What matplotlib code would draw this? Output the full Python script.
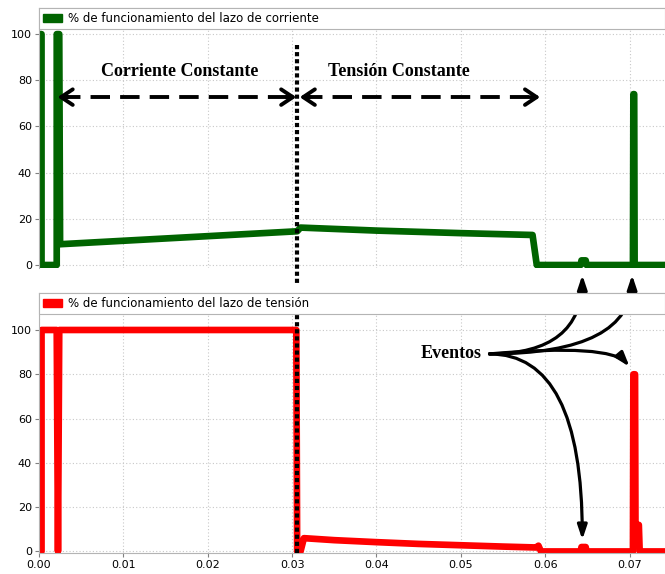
import matplotlib
matplotlib.use("Agg")
import matplotlib.pyplot as plt
from matplotlib.patches import Patch
from matplotlib.ticker import FormatStrFormatter

# Current-loop duty (%) over time (s)
t_corriente = [0.0, 0.0003, 0.0003, 0.0021, 0.0021, 0.0024, 0.0025, 0.0306, 0.0310,
               0.0400, 0.0500, 0.0585, 0.0590, 0.0642, 0.0643, 0.0648, 0.0649,
               0.0704, 0.07045, 0.07055, 0.0706, 0.0742]
lazo_corriente = [100, 100, 0, 0, 100, 100, 9.0, 14.6, 16.2,
                  14.9, 13.8, 13.0, 0, 0, 2.0, 2.0, 0,
                  0, 74, 74, 0, 0]

# Voltage-loop duty (%) over time (s)
t_tension = [0.0, 0.0003, 0.0003, 0.0021, 0.00225, 0.0024, 0.0305, 0.0306, 0.0310,
             0.0314, 0.0350, 0.0400, 0.0450, 0.0500, 0.0550, 0.0589, 0.0592, 0.0595,
             0.0642, 0.0643, 0.0648, 0.0649, 0.0704, 0.07045, 0.07065, 0.0707,
             0.0711, 0.0712, 0.0742]
lazo_tension = [0, 0, 100, 100, 0, 100, 100, 0, 0,
                6.0, 5.1, 4.2, 3.4, 2.8, 2.2, 1.8, 2.6, 0,
                0, 2.0, 2.0, 0, 0, 80, 80, 12,
                12, 0, 0]

leyenda_corriente = "% de funcionamiento del lazo de corriente"
leyenda_tension = "% de funcionamiento del lazo de tensión"
y_ticks = [0, 20, 40, 60, 80, 100]
x_ticks = [0.00, 0.01, 0.02, 0.03, 0.04, 0.05, 0.06, 0.07]

t_cambio = 0.0306          # CC -> CV transition
t_inicio_cc = 0.0021
t_fin_cv = 0.0594
eventos_t = [0.0644, 0.0703]

VERDE = "#006400"
ROJO = "#ff0000"
GRIS = "#b4b4b4"

W, H = 665, 574
fig = plt.figure(figsize=(W / 100, H / 100), dpi=100)


def px_rect(l, t, r, b):
    return [l / W, 1 - b / H, (r - l) / W, (b - t) / H]


ax_i = fig.add_axes(px_rect(39, 8, 665, 268))
ax_v = fig.add_axes(px_rect(39, 293, 665, 553))

serif = dict(family="Liberation Serif", weight="bold", size=13)


def estilo(ax, ylim, color, etiqueta, con_x):
    ax.set_xlim(0, 0.0742)
    ax.set_ylim(*ylim)
    ax.set_yticks(y_ticks)
    ax.set_xticks(x_ticks)
    ax.xaxis.set_major_formatter(FormatStrFormatter("%.2f"))
    ax.grid(True, color="#c8c8c8", lw=0.8, linestyle=(0, (1, 2)))
    ax.set_axisbelow(True)
    ax.spines["right"].set_visible(False)
    for s in ["left", "top", "bottom"]:
        ax.spines[s].set_color(GRIS)
    ax.tick_params(axis="both", colors="#808080", labelcolor="black",
                   labelsize=8, length=3, width=0.8, pad=2)
    if not con_x:
        ax.spines["bottom"].set_visible(False)
        ax.tick_params(axis="x", length=0, labelbottom=False)
    leg = ax.legend(handles=[Patch(facecolor=color, edgecolor=color, label=etiqueta)],
                    loc="upper left", bbox_to_anchor=(0, 1, 1, 0), mode="expand",
                    borderaxespad=0, fancybox=False, framealpha=1, edgecolor=GRIS,
                    fontsize=8.5, handlelength=1.6, handleheight=0.6,
                    handletextpad=0.5, borderpad=0.35)
    leg.get_frame().set_linewidth(0.8)


ax_i.plot(t_corriente, lazo_corriente, color=VERDE, lw=4.8)
ax_v.plot(t_tension, lazo_tension, color=ROJO, lw=4.8)

estilo(ax_i, (-1.3, 111.3), VERDE, leyenda_corriente, False)
estilo(ax_v, (-0.7, 116.7), ROJO, leyenda_tension, True)

# Phase labels and dashed double arrows
ax_i.text(0.0167, 84, "Corriente Constante", ha="center", va="center", **serif)
ax_i.text(0.0427, 84, "Tensión Constante", ha="center", va="center", **serif)

y_flecha = 72.7
for a, b in [(t_inicio_cc + 0.0001, t_cambio - 0.0001), (t_cambio + 0.0003, t_fin_cv)]:
    ax_i.plot([a + 0.0004, b - 0.0004], [y_flecha, y_flecha], color="black",
              lw=2.8, linestyle=(0, (5, 2.6)), dash_capstyle="butt", clip_on=False)
    for tip, tail in [(a, a + 0.0012), (b, b - 0.0012)]:
        ax_i.annotate("", xy=(tip, y_flecha), xytext=(tail, y_flecha),
                      arrowprops=dict(arrowstyle="->,head_length=0.6,head_width=0.4",
                                      lw=2.8, color="black", mutation_scale=14,
                                      shrinkA=0, shrinkB=0))

# Dotted transition line: above the lower panel, then inside it under its legend
punteado = dict(color="black", lw=3, linestyle=(0, (1, 0.7)), dash_capstyle="butt")
ax_i.plot([t_cambio, t_cambio], [95.2, -7.8], clip_on=False, zorder=4, **punteado)
ax_v.plot([t_cambio, t_cambio], [-0.7, 116.7], zorder=4, **punteado)

# Event annotations
ax_v.text(0.0489, 89.2, "Eventos", ha="center", va="center", **serif)
origen = (0.0534, 89.2)
flecha = dict(arrowstyle="-|>,head_length=0.6,head_width=0.2", lw=2.3, color="black",
              mutation_scale=14, shrinkA=0, shrinkB=0)
for tx in eventos_t:
    ax_v.annotate("", xy=(tx, -4.3), xycoords=ax_i.transData,
                  xytext=origen, textcoords=ax_v.transData, annotation_clip=False,
                  arrowprops=dict(flecha, connectionstyle="angle3,angleA=0,angleB=90"))
ax_v.annotate("", xy=(0.0700, 83.4), xytext=origen, annotation_clip=False,
              arrowprops=dict(flecha, connectionstyle="angle3,angleA=5,angleB=-50"))
ax_v.annotate("", xy=(eventos_t[0], 5.3), xytext=origen, annotation_clip=False,
              arrowprops=dict(flecha, connectionstyle="angle3,angleA=0,angleB=90"))

fig.savefig("out.png", dpi=100)
